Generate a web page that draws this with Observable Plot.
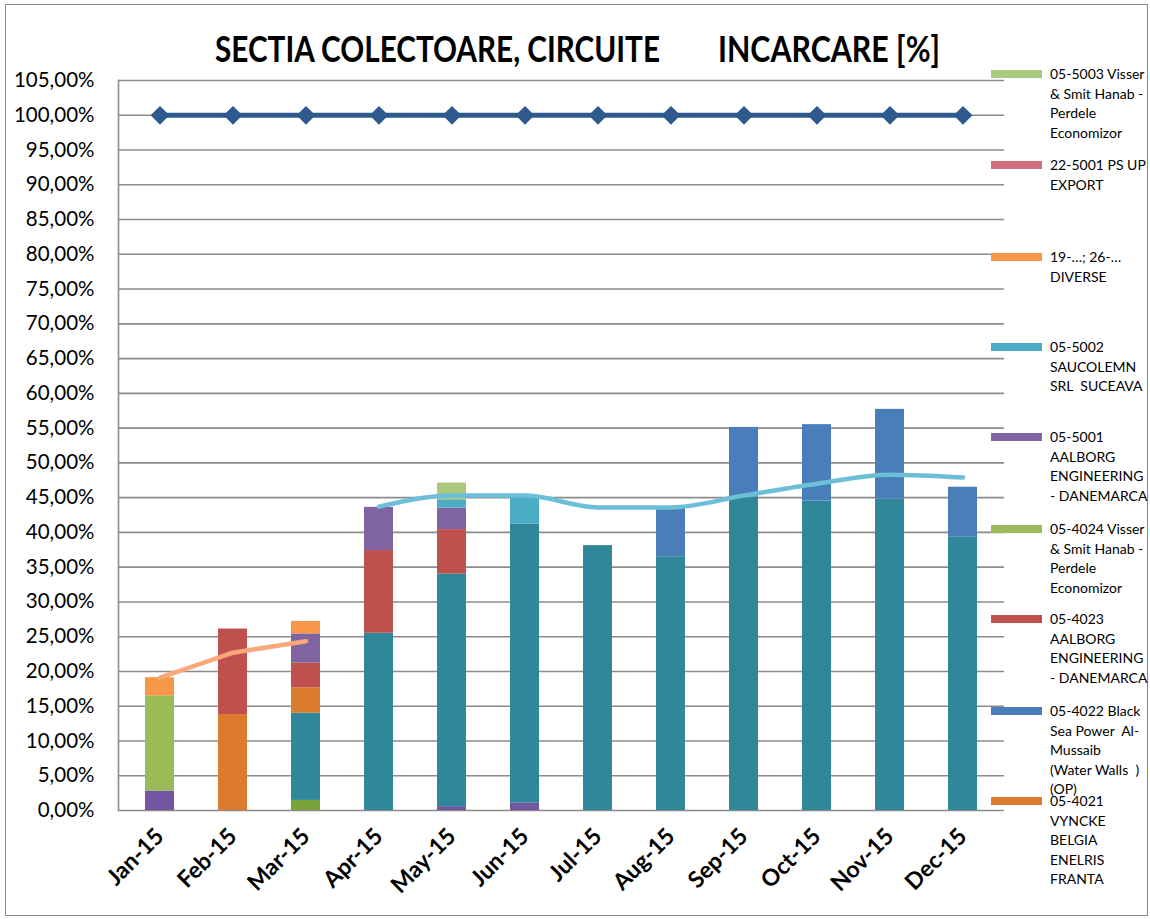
<!DOCTYPE html>
<html>
<head>
<meta charset="utf-8">
<script src="https://cdn.jsdelivr.net/npm/d3@7"></script>
<script src="https://cdn.jsdelivr.net/npm/@observablehq/plot@0.6"></script>
<style>
  body { margin: 0; background: #fff; }
  #wrap { position: relative; width: 1150px; height: 919px; overflow: hidden; font-family: Lato, "Open Sans", sans-serif; color: #000; }
  #frame { position: absolute; left: 5px; top: 4px; width: 1143px; height: 912px; border: 1.5px solid #8c8c8c; box-sizing: border-box; }
  #chart { position: absolute; left: 0; top: 0; }
  .title { position: absolute; top: 30px; font-size: 36px; line-height: 36px; font-weight: 700; white-space: pre; transform-origin: 0 0; }
  .lg-sw { position: absolute; left: 991px; width: 51px; height: 8px; }
  .lg-tx { position: absolute; left: 1050px; font-size: 14px; line-height: 19.6px; white-space: pre; }
</style>
</head>
<body>
<div id="wrap">
  <div id="frame"></div>
  <div id="chart"></div>
</div>
<script>
// ---- categories ----
const months = ["Jan-15","Feb-15","Mar-15","Apr-15","May-15","Jun-15","Jul-15","Aug-15","Sep-15","Oct-15","Nov-15","Dec-15"];

// ---- stacked series (segment heights in %), bottom to top ----
const sBottomPurple = [2.8, 0, 0, 0, 0.55, 1.05, 0, 0, 0, 0, 0, 0];
const sBottomGreen  = [0, 0, 1.45, 0, 0, 0, 0, 0, 0, 0, 0, 0];
const sBaseTeal     = [0, 0, 12.55, 25.5, 33.45, 40.15, 38.1, 36.5, 45.1, 44.5, 44.8, 39.3];
const s054021 = [0, 13.8, 3.65, 0, 0, 0, 0, 0, 0, 0, 0, 0];
const s054022 = [0, 0, 0, 0, 0, 0, 0, 7.2, 10.0, 11.0, 12.9, 7.2];
const s054023 = [0, 12.3, 3.55, 11.9, 6.4, 0, 0, 0, 0, 0, 0, 0];
const s054024 = [13.7, 0, 0, 0, 0, 0, 0, 0, 0, 0, 0, 0];
const s055001 = [0, 0, 4.2, 6.2, 3.1, 0, 0, 0, 0, 0, 0, 0];
const s055002 = [0, 0, 0, 0, 1.2, 3.8, 0, 0, 0, 0, 0, 0];
const sDiverse = [2.6, 0, 1.8, 0, 0, 0, 0, 0, 0, 0, 0, 0];
const s225001 = [0, 0, 0, 0, 0, 0, 0, 0, 0, 0, 0, 0];
const s055003 = [0, 0, 0, 0, 2.4, 0, 0, 0, 0, 0, 0, 0];

const seriesKeys = ["bottom-purple","bottom-green","base-teal","05-4021","05-4022","05-4023","05-4024","05-5001","05-5002","19-26","22-5001","05-5003"];
const seriesValues = [sBottomPurple, sBottomGreen, sBaseTeal, s054021, s054022, s054023, s054024, s055001, s055002, sDiverse, s225001, s055003];
const seriesColors = ["#7256a0","#77a33a","#31879a","#da7b2e","#4a7ebb","#c0504d","#9bbb59","#8064a2","#4bacc6","#f79646","#cf6f80","#aac97e"];

// ---- line series ----
const capacity = [100, 100, 100, 100, 100, 100, 100, 100, 100, 100, 100, 100];
const lineQ1Months = ["Jan-15","Feb-15","Mar-15"];
const lineQ1 = [19.1, 22.7, 24.35];
const lineRestMonths = ["Apr-15","May-15","Jun-15","Jul-15","Aug-15","Sep-15","Oct-15","Nov-15","Dec-15"];
const lineRest = [43.7, 45.3, 45.3, 43.6, 43.6, 45.3, 47.0, 48.3, 47.9];

// ---- axis ticks ----
const yTicks = [0,5,10,15,20,25,30,35,40,45,50,55,60,65,70,75,80,85,90,95,100,105];

// ---- title & legend ----
const titleParts = ["SECTIA COLECTOARE, CIRCUITE", "INCARCARE [%]"];
const legendLabels = [
  ["05-5003 Visser","& Smit Hanab -","Perdele","Economizor"],
  ["22-5001 PS UP","EXPORT"],
  ["19-…; 26-…","DIVERSE"],
  ["05-5002","SAUCOLEMN","SRL  SUCEAVA"],
  ["05-5001","AALBORG","ENGINEERING","- DANEMARCA"],
  ["05-4024 Visser","& Smit Hanab -","Perdele","Economizor"],
  ["05-4023","AALBORG","ENGINEERING","- DANEMARCA"],
  ["05-4022 Black","Sea Power  Al-","Mussaib","(Water Walls  )","(OP)"],
  ["05-4021","VYNCKE","BELGIA","ENELRIS","FRANTA"]
];
const legendKeys = ["05-5003","22-5001","19-26","05-5002","05-5001","05-4024","05-4023","05-4022","05-4021"];

// ---- build tables ----
const rows = [];
seriesKeys.forEach((k, i) => {
  seriesValues[i].forEach((v, j) => { if (v > 0) rows.push({month: months[j], series: k, value: v}); });
});
const capRows = months.map((m, j) => ({month: m, value: capacity[j]}));
const q1Rows = lineQ1Months.map((m, j) => ({month: m, value: lineQ1[j]}));
const restRows = lineRestMonths.map((m, j) => ({month: m, value: lineRest[j]}));
const fmt = d => d.toFixed(2).replace(".", ",") + "%";

const plot = Plot.plot({
  width: 1150,
  height: 919,
  marginLeft: 118,
  marginRight: 146,
  marginTop: 80,
  marginBottom: 109,
  style: {fontFamily: "Lato, 'Open Sans', sans-serif", fontSize: "20px", color: "#000", background: "transparent", overflow: "visible"},
  x: {domain: months, paddingInner: 0.6, paddingOuter: 0.3, label: null},
  y: {domain: [0, 105], label: null},
  color: {domain: seriesKeys, range: seriesColors},
  marks: [
    Plot.ruleY(yTicks, {stroke: "#8c8c8c", strokeWidth: 1.6}),
    Plot.barY(rows, {x: "month", y: "value", z: "series", fill: "series"}),
    Plot.frame({anchor: "left", stroke: "#8c8c8c", strokeWidth: 1.6}),
    Plot.line(q1Rows, {x: "month", y: "value", stroke: "#f9a877", strokeWidth: 4.5}),
    Plot.line(restRows, {x: "month", y: "value", stroke: "#6cbfd8", strokeWidth: 4.5, curve: "monotone-x"}),
    Plot.line(capRows, {x: "month", y: "value", stroke: "#2e5a8e", strokeWidth: 5}),
    Plot.dot(capRows, {x: "month", y: "value", symbol: "diamond2", r: 7.5, fill: "#2e5a8e", stroke: "#2e5a8e"}),
    Plot.axisY(yTicks, {tickSize: 0, tickPadding: 24, tickFormat: fmt, fontSize: 20.5}),
    Plot.axisX(months, {tickSize: 0, tickPadding: 22, tickRotate: -45, fontSize: 23, fontWeight: "bold"})
  ]
});
document.getElementById("chart").appendChild(plot);

const wrap = document.getElementById("wrap");
// title
const titleBoxes = [[215, 445], [718, 222]];
titleParts.forEach((t, i) => {
  const el = document.createElement("div");
  el.className = "title";
  el.textContent = t;
  el.style.left = titleBoxes[i][0] + "px";
  wrap.appendChild(el);
  const w = el.getBoundingClientRect().width;
  el.style.transform = `scaleX(${titleBoxes[i][1] / w})`;
});
// legend
const legendY = [74, 165, 257, 347, 437, 529, 619, 711, 801];
legendLabels.forEach((lines, i) => {
  const sw = document.createElement("div");
  sw.className = "lg-sw";
  sw.style.top = (legendY[i] - 4) + "px";
  sw.style.background = seriesColors[seriesKeys.indexOf(legendKeys[i])];
  wrap.appendChild(sw);
  const tx = document.createElement("div");
  tx.className = "lg-tx";
  tx.style.top = (legendY[i] - 10) + "px";
  tx.textContent = lines.join("\n");
  wrap.appendChild(tx);
});
</script>
</body>
</html>
